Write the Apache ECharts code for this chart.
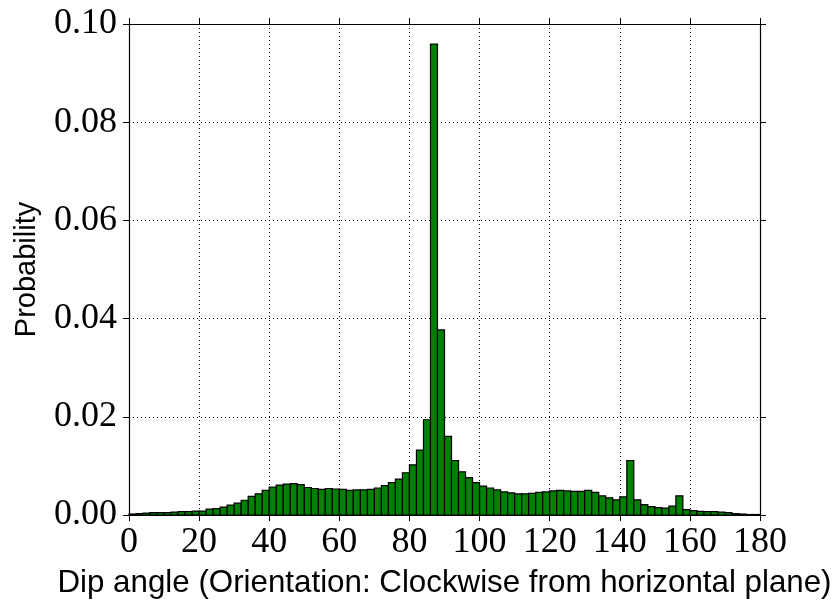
<!DOCTYPE html>
<html>
<head>
<meta charset="utf-8">
<script src="https://cdn.jsdelivr.net/npm/echarts@6/dist/echarts.min.js"></script>
<style>html,body{margin:0;padding:0;background:#fff}#c{width:838px;height:607px}</style>
</head>
<body>
<div id="c"></div>
<script>
// bin left edges (degrees), bin width 2
var binStart = [0,2,4,6,8,10,12,14,16,18,20,22,24,26,28,30,32,34,36,38,40,42,44,46,48,50,52,54,56,58,
  60,62,64,66,68,70,72,74,76,78,80,82,84,86,88,90,92,94,96,98,100,102,104,106,108,110,112,114,116,118,
  120,122,124,126,128,130,132,134,136,138,140,142,144,146,148,150,152,154,156,158,160,162,164,166,168,170,172,174,176,178];
var binWidth = 2;
var probability = [
  0.0002,0.0003,0.0004,0.0005,0.0005,0.0005,0.0006,0.0007,0.0007,0.0008,
  0.0008,0.0012,0.0013,0.0016,0.0020,0.0024,0.0030,0.0038,0.0043,0.0050,
  0.0057,0.0061,0.0063,0.0064,0.0062,0.0056,0.0054,0.0052,0.0054,0.0053,
  0.0052,0.0050,0.0051,0.0051,0.0052,0.0055,0.0060,0.0066,0.0073,0.0086,
  0.0102,0.0132,0.0194,0.0959,0.0377,0.0160,0.0111,0.0088,0.0076,0.0066,
  0.0059,0.0055,0.0051,0.0047,0.0045,0.0043,0.0043,0.0044,0.0046,0.0047,
  0.0049,0.0050,0.0049,0.0048,0.0048,0.0050,0.0046,0.0039,0.0035,0.0031,
  0.0037,0.0111,0.0031,0.0021,0.0017,0.0015,0.0014,0.0018,0.0039,0.0011,
  0.0009,0.00075,0.0007,0.0007,0.0006,0.0005,0.0003,0.0002,0.0001,0.0001];
var xTicks = [0,20,40,60,80,100,120,140,160,180];
var yTickLabels = ['0.00','0.02','0.04','0.06','0.08','0.10'];

var data = binStart.map(function(s,i){ return [s, s+binWidth, probability[i]]; });
var chart = echarts.init(document.getElementById('c'), null, {renderer:'canvas'});
var serif = 'Liberation Serif';
var sans = 'Liberation Sans';
var axisLineStyle = {color:'#000', width:1.2};
var tickStyle = {show:true, length:6, inside:false, lineStyle:{color:'#000', width:1}};
chart.setOption({
  animation:false,
  grid:{left:129, right:78, top:24, bottom:92, containLabel:false},
  xAxis:[{
    type:'value', min:0, max:180, interval:20, position:'bottom',
    name:'Dip angle (Orientation: Clockwise from horizontal plane)',
    nameLocation:'middle', nameGap:53,
    nameTextStyle:{fontFamily:sans, fontSize:31.3, color:'#000'},
    axisLine:{show:true, onZero:false, lineStyle:axisLineStyle},
    axisTick:tickStyle,
    axisLabel:{fontFamily:serif, fontSize:36, color:'#000', margin:10,
      formatter:function(v){ return xTicks.indexOf(v)>=0 ? String(v) : ''; }},
    splitLine:{show:true, lineStyle:{color:'#000', width:1, type:[1,3]}}
  },{
    type:'value', min:0, max:180, interval:20, position:'top',
    axisLine:{show:true, onZero:false, lineStyle:axisLineStyle},
    axisTick:tickStyle,
    axisLabel:{show:false}, splitLine:{show:false}
  }],
  yAxis:[{
    type:'value', min:0, max:0.1, interval:0.02, position:'left',
    name:'Probability', nameLocation:'middle', nameGap:88, nameRotate:90,
    nameTextStyle:{fontFamily:sans, fontSize:29, color:'#000'},
    axisLine:{show:true, onZero:false, lineStyle:axisLineStyle},
    axisTick:tickStyle,
    axisLabel:{fontFamily:serif, fontSize:36, color:'#000', margin:12,
      formatter:function(v){ return yTickLabels[Math.round(v/0.02)]; }},
    splitLine:{show:true, lineStyle:{color:'#000', width:1, type:[1,3]}}
  },{
    type:'value', min:0, max:0.1, interval:0.02, position:'right',
    axisLine:{show:true, onZero:false, lineStyle:axisLineStyle},
    axisTick:tickStyle,
    axisLabel:{show:false}, splitLine:{show:false}
  }],
  series:[{
    type:'custom', xAxisIndex:0, yAxisIndex:0,
    encode:{x:[0,1], y:2},
    data:data,
    renderItem:function(params, api){
      var p0 = api.coord([api.value(0), api.value(2)]);
      var p1 = api.coord([api.value(1), 0]);
      return {type:'rect', shape:{x:p0[0], y:p0[1], width:p1[0]-p0[0], height:p1[1]-p0[1]},
        style:{fill:'#008000', stroke:'#000', lineWidth:1.2}};
    }
  }]
});
</script>
</body>
</html>
